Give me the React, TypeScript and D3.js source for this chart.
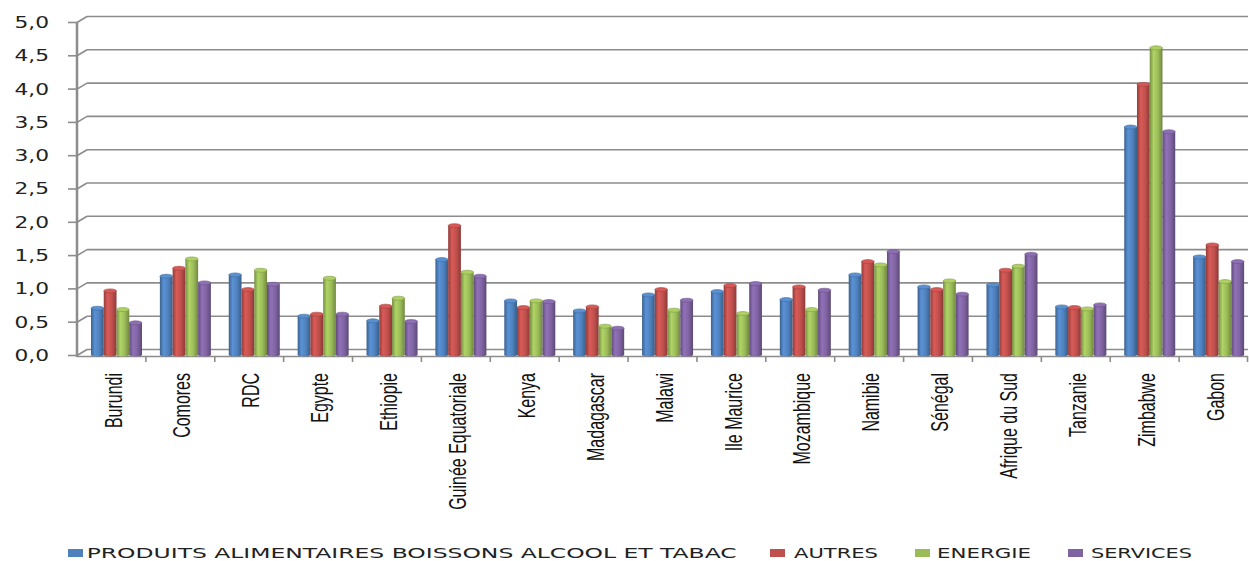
import React, { useRef, useEffect } from 'react';
import * as d3 from 'd3';

// Data
const categories = [
  'Burundi', 'Comores', 'RDC', 'Egypte', 'Ethiopie', 'Guinée Equatoriale', 'Kenya',
  'Madagascar', 'Malawi', 'Ile Maurice', 'Mozambique', 'Namibie', 'Sénégal',
  'Afrique du Sud', 'Tanzanie', 'Zimbabwe', 'Gabon',
];
const seriesNames = ['PRODUITS ALIMENTAIRES BOISSONS ALCOOL ET TABAC', 'AUTRES', 'ENERGIE', 'SERVICES'];
const produits = [0.71, 1.19, 1.21, 0.59, 0.52, 1.44, 0.82, 0.67, 0.91, 0.96, 0.84, 1.21, 1.03, 1.06, 0.73, 3.43, 1.48];
const autres = [0.97, 1.31, 0.99, 0.62, 0.74, 1.95, 0.72, 0.73, 0.99, 1.05, 1.03, 1.41, 0.99, 1.28, 0.72, 4.07, 1.66];
const energie = [0.69, 1.45, 1.28, 1.16, 0.86, 1.25, 0.82, 0.44, 0.68, 0.63, 0.69, 1.36, 1.12, 1.34, 0.70, 4.62, 1.11];
const services = [0.49, 1.09, 1.07, 0.62, 0.51, 1.19, 0.81, 0.41, 0.83, 1.08, 0.98, 1.56, 0.92, 1.52, 0.76, 3.36, 1.41];
const yTicks = [0, 0.5, 1, 1.5, 2, 2.5, 3, 3.5, 4, 4.5, 5];
const colors = ['#4F81BD', '#C0504D', '#9BBB59', '#8064A2'];

const App: React.FC = () => {
  const ref = useRef<SVGSVGElement | null>(null);

  useEffect(() => {
    if (!ref.current) return;
    const svg = d3.select(ref.current);
    svg.selectAll('*').remove();

    const width = 1249;
    const height = 561;
    const left = 77;
    const right = 1248;
    const depthX = 10;
    const depthY = 6;
    const stretch = 1.45;

    const y = d3.scaleLinear().domain([0, 5]).range([355.5, 22.5]);
    const x0 = d3.scaleBand<string>().domain(categories).range([left, right]).padding(0);
    const x1 = d3.scaleBand<string>().domain(seriesNames).range([0, 51]).padding(0);

    svg.attr('width', width).attr('height', height);

    // gradients for cylinder look
    const defs = svg.append('defs');
    colors.forEach((c, i) => {
      const g = defs.append('linearGradient').attr('id', `grad${i}`).attr('x1', 0).attr('x2', 1).attr('y1', 0).attr('y2', 0);
      const base = d3.color(c)!;
      g.append('stop').attr('offset', '0%').attr('stop-color', base.darker(0.8).formatHex());
      g.append('stop').attr('offset', '30%').attr('stop-color', d3.color(c)!.brighter(0.35).formatHex());
      g.append('stop').attr('offset', '65%').attr('stop-color', c);
      g.append('stop').attr('offset', '100%').attr('stop-color', d3.color(c)!.darker(0.9).formatHex());
    });

    const grid = svg.append('g').attr('stroke', '#8c8c8c').attr('stroke-width', 1.6).attr('fill', 'none');
    yTicks.forEach(t => {
      grid.append('line').attr('x1', left + depthX).attr('x2', right).attr('y1', y(t) - depthY).attr('y2', y(t) - depthY);
      grid.append('line').attr('x1', left).attr('x2', left + depthX).attr('y1', y(t)).attr('y2', y(t) - depthY);
      grid.append('line').attr('x1', left - 9).attr('x2', left).attr('y1', y(t)).attr('y2', y(t));
    });
    // left wall axis and floor front edge
    grid.append('line').attr('x1', left).attr('x2', left).attr('y1', y(5)).attr('y2', 357).attr('stroke-width', 2.5);
    grid.append('line').attr('x1', left).attr('x2', right).attr('y1', 356.5).attr('y2', 356.5);
    categories.forEach((c, i) => {
      const xx = (x0(c) as number) + (i === 0 ? 0 : 0);
      if (i > 0) grid.append('line').attr('x1', xx).attr('x2', xx).attr('y1', 356).attr('y2', 362);
    });
    grid.append('line').attr('x1', right - 0.5).attr('x2', right - 0.5).attr('y1', 356).attr('y2', 362);

    // y labels
    svg.append('g')
      .selectAll('text')
      .data(yTicks)
      .join('text')
      .attr('transform', d => `translate(49,${y(d)}) scale(${stretch},1)`)
      .attr('text-anchor', 'end')
      .attr('dy', '0.36em')
      .attr('font-family', 'DejaVu Sans, Verdana, sans-serif')
      .attr('font-size', 15)
      .attr('fill', '#222')
      .text(d => d3.format('.1f')(d).replace('.', ','));

    // bars
    const allSeries = [produits, autres, energie, services];
    const bars = svg.append('g');
    categories.forEach((c, ci) => {
      seriesNames.forEach((s, si) => {
        const v = allSeries[si][ci];
        const bx = (x0(c) as number) + 14 + (x1(s) as number);
        const bw = x1.bandwidth();
        const top = y(v);
        const base = 355;
        bars.append('rect')
          .attr('x', bx)
          .attr('y', top)
          .attr('width', bw)
          .attr('height', base - top)
          .attr('fill', `url(#grad${si})`);
        bars.append('ellipse')
          .attr('cx', bx + bw / 2)
          .attr('cy', base)
          .attr('rx', bw / 2)
          .attr('ry', 1.5)
          .attr('fill', `url(#grad${si})`);
        bars.append('ellipse')
          .attr('cx', bx + bw / 2)
          .attr('cy', top)
          .attr('rx', bw / 2)
          .attr('ry', 2)
          .attr('fill', d3.color(colors[si])!.brighter(0.3).formatHex())
          .attr('stroke', d3.color(colors[si])!.darker(0.5).formatHex())
          .attr('stroke-width', 0.6);
      });
    });

    // category labels
    svg.append('g')
      .selectAll('text')
      .data(categories)
      .join('text')
      .attr('transform', d => `translate(${(x0(d) as number) + x0.bandwidth() / 2 + 2},373) rotate(-90) scale(1,${stretch})`)
      .attr('text-anchor', 'end')
      .attr('dy', '0.35em')
      .attr('font-family', 'Liberation Sans, Arial, sans-serif')
      .attr('font-size', 16)
      .attr('fill', '#111')
      .text(d => d);

    // legend
    const legendLayout = [
      { sq: 68, tx: 86.7, tw: 650 },
      { sq: 770, tx: 794, tw: 84 },
      { sq: 915, tx: 937, tw: 94 },
      { sq: 1068, tx: 1091, tw: 101 },
    ];
    const legend = svg.append('g');
    seriesNames.forEach((s, i) => {
      const l = legendLayout[i];
      legend.append('rect').attr('x', l.sq).attr('y', 549).attr('width', 15).attr('height', 8).attr('fill', colors[i]);
      legend.append('text')
        .attr('x', l.tx)
        .attr('y', 558)
        .attr('font-family', 'DejaVu Sans, Verdana, sans-serif')
        .attr('font-size', 14)
        .attr('fill', '#222')
        .attr('textLength', l.tw)
        .attr('lengthAdjust', 'spacingAndGlyphs')
        .text(s);
    });
  }, []);

  return (
    <div style={{ position: 'absolute', left: 0, top: 0 }}>
      <svg ref={ref} style={{ display: 'block' }} />
    </div>
  );
};

export default App;
